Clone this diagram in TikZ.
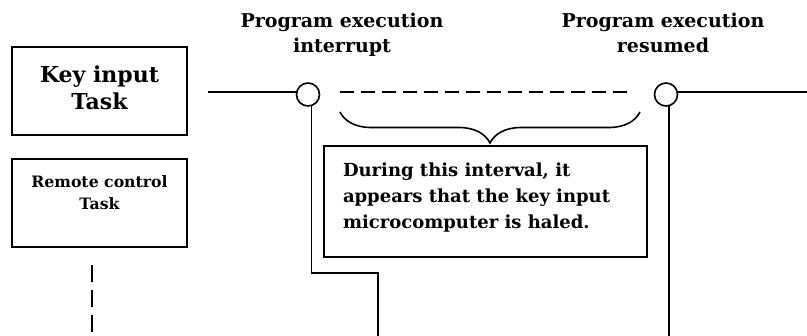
\documentclass[tikz,border=0pt]{standalone}
\usepackage{fontspec}
\setmainfont{DejaVu Serif}
\usetikzlibrary{decorations.pathreplacing}
\begin{document}
\begin{tikzpicture}[x=1pt,y=-1pt,
  every node/.style={font=\bfseries, inner sep=0pt, outer sep=0pt},
  ln/.style={line width=1.6pt, black},
  boxframe/.style={draw, line width=1.6pt, rectangle},
  dot/.style={draw, line width=1.6pt, circle, minimum size=23pt, fill=white},
  dashh/.style={line width=1.6pt, dash pattern=on 14pt off 7pt},
  dashv/.style={line width=2.4pt, dash pattern=on 17pt off 8pt}]
\useasboundingbox (0,0) rectangle (807,336);
% boxes
\node[boxframe, minimum width=175pt, minimum height=88pt] (kbox) at (99.5,91) {};
\node[boxframe, minimum width=175pt, minimum height=88pt] (rbox) at (99.5,203) {};
\node[boxframe, minimum width=323pt, minimum height=111pt] (ibox) at (485.5,201.5) {};
\node[font=\fontsize{22}{27}\selectfont\bfseries, align=center, anchor=base] (ktext) at (99.5,110) {Key input\\Task};
\node[font=\fontsize{15.7}{22}\selectfont\bfseries, align=center, anchor=base] (rtext) at (99.5,210) {Remote control\\Task};
\node[font=\fontsize{18}{26}\selectfont\bfseries, align=left, anchor=base west] (itext) at (343,229) {During this interval, it\\appears that the key input\\microcomputer is haled.};
% titles
\node[font=\fontsize{19}{25}\selectfont\bfseries, align=center, anchor=base] (t1) at (342,53) {Program execution\\interrupt};
\node[font=\fontsize{19}{25}\selectfont\bfseries, align=center, anchor=base] (t2) at (663,53) {Program execution\\resumed};
% circles
\node[dot] (c1) at (308,94.5) {};
\node[dot] (c2) at (666,94.5) {};
% coordinates
\coordinate (l0) at (208,92);
\coordinate (r1) at (807,92);
\coordinate (d0) at (340,92);
\coordinate (d1) at (633,92);
\coordinate (v1a) at (311.5,273);
\coordinate (v1b) at (378,273);
\coordinate (v1c) at (378,336);
\coordinate (v2) at (669,336);
\coordinate (vd0) at (92,265);
\coordinate (vd1) at (92,336);
\coordinate (b0) at (340,112);
\coordinate (b1) at (640,112);
% lines
\draw[ln] (l0) -- (c1.west |- l0);
\draw[ln] (c2.east |- r1) -- (r1);
\draw[dashh] (d0) -- (d1);
\draw[ln] (c1.south -| v1a) -- (v1a) -- (v1b) -- (v1c);
\draw[ln] (c2.south -| v2) -- (v2);
\draw[dashv] (vd0) -- (vd1);
\draw[ln, decorate, decoration={brace, mirror, amplitude=31pt, aspect=0.5}] (b0) -- (b1);
\end{tikzpicture}
\end{document}
